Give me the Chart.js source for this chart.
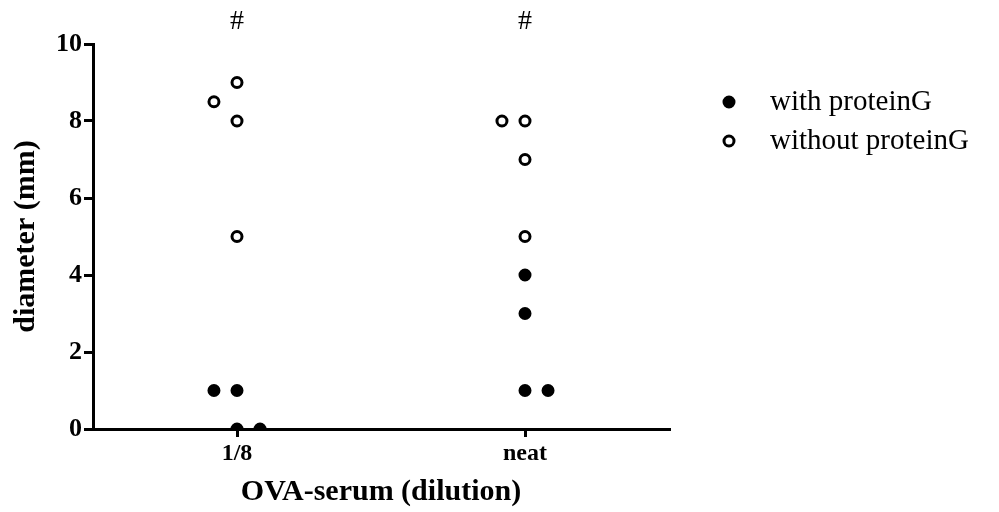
<!DOCTYPE html>
<html>
<head>
<meta charset="utf-8">
<script src="https://cdn.jsdelivr.net/npm/chart.js@4"></script>
<style>
  body { margin: 0; background: #fff; }
</style>
</head>
<body>
<canvas id="c" width="999" height="512"></canvas>
<script>
// groups on the x axis
const categories = ['1/8', 'neat'];
const markers = ['#', '#'];

// values per group, plus side-step for overlapping dots (-1 left, +1 right)
const withProteinG = [[1, 1, 0, 0], [4, 3, 1, 1]];
const withSide = [[-1, 0, 0, 1], [0, 0, 0, 1]];
const withoutProteinG = [[8.5, 9, 8, 5], [8, 8, 7, 5]];
const withoutSide = [[-1, 0, 0, 0], [-1, 0, 0, 0]];

const yTicks = [0, 2, 4, 6, 8, 10];
const serif = "'Liberation Serif', 'DejaVu Serif', serif";

const step = 0.16;
const catX = i => 2 * i + 1;

function points(vals, side) {
  const out = [];
  vals.forEach((g, i) => {
    g.forEach((v, j) => out.push({ x: catX(i) + side[i][j] * step, y: v }));
  });
  return out;
}

const extras = {
  id: 'extras',
  afterDraw(chart) {
    const ctx = chart.ctx;
    const xs = chart.scales.x;
    ctx.save();
    ctx.fillStyle = '#000';
    ctx.textAlign = 'center';
    ctx.textBaseline = 'middle';
    ctx.font = '28px ' + serif;
    markers.forEach((m, i) => {
      ctx.fillText(m, xs.getPixelForValue(catX(i)), 22);
    });

    // legend
    ctx.textAlign = 'left';
    ctx.font = '29px ' + serif;
    chart.data.datasets.forEach((ds, i) => {
      const y = 102 + i * 39;
      ctx.beginPath();
      ctx.arc(729, y, 5, 0, Math.PI * 2);
      ctx.lineWidth = 3;
      ctx.strokeStyle = '#000';
      ctx.fillStyle = ds.backgroundColor;
      ctx.fill();
      ctx.stroke();
      ctx.fillStyle = '#000';
      ctx.fillText(ds.label, 770, y);
    });
    ctx.restore();
  }
};

new Chart(document.getElementById('c'), {
  type: 'scatter',
  data: {
    datasets: [
      {
        label: 'with proteinG',
        data: points(withProteinG, withSide),
        backgroundColor: '#000',
        borderColor: '#000',
        pointRadius: 5,
        borderWidth: 3
      },
      {
        label: 'without proteinG',
        data: points(withoutProteinG, withoutSide),
        backgroundColor: '#fff',
        borderColor: '#000',
        pointRadius: 5,
        borderWidth: 3
      }
    ]
  },
  options: {
    responsive: false,
    animation: false,
    devicePixelRatio: 1,
    layout: { padding: { top: 44, right: 330, left: 0, bottom: 0 } },
    plugins: {
      legend: { display: false },
      tooltip: { enabled: false }
    },
    scales: {
      x: {
        type: 'linear',
        min: 0,
        max: 4,
        afterFit: s => { s.height = 83; },
        afterBuildTicks: s => { s.ticks = categories.map((c, i) => ({ value: catX(i) })); },
        ticks: {
          color: '#000',
          font: { family: serif, size: 24, weight: 'bold' },
          padding: 2,
          callback: v => categories[(v - 1) / 2]
        },
        grid: { drawOnChartArea: false, drawTicks: true, tickLength: 8, color: '#000', lineWidth: 3 },
        border: { color: '#000', width: 3 },
        title: {
          display: true,
          text: 'OVA-serum (dilution)',
          color: '#000',
          font: { family: serif, size: 30, weight: 'bold' },
          padding: { top: 0, bottom: 2 }
        }
      },
      y: {
        min: 0,
        max: 10,
        afterFit: s => { s.width = 93; },
        afterBuildTicks: s => { s.ticks = yTicks.map(v => ({ value: v })); },
        ticks: {
          color: '#000',
          font: { family: serif, size: 26, weight: 'bold' },
          padding: 2
        },
        grid: { drawOnChartArea: false, drawTicks: true, tickLength: 9, color: '#000', lineWidth: 3 },
        border: { color: '#000', width: 3 },
        title: {
          display: true,
          text: 'diameter (mm)',
          color: '#000',
          font: { family: serif, size: 30, weight: 'bold' },
          padding: { bottom: 0, top: 8 }
        }
      }
    }
  },
  plugins: [extras]
});
</script>
</body>
</html>
